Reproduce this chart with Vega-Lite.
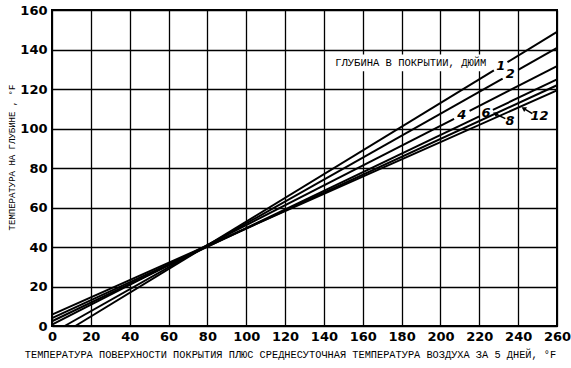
{
  "$schema": "https://vega.github.io/schema/vega-lite/v6.json",
  "width": 505,
  "height": 316,
  "autosize": {"type": "none"},
  "padding": {"left": 52, "top": 10, "right": 14, "bottom": 42},
  "background": "white",
  "config": {
    "view": {"stroke": "black", "strokeWidth": 2},
    "axis": {
      "grid": true,
      "gridColor": "black",
      "gridOpacity": 1,
      "gridWidth": 1.3,
      "domain": false,
      "ticks": false,
      "labelFont": "DejaVu Sans",
      "labelFontWeight": "bold",
      "labelFontSize": 13,
      "labelColor": "black",
      "labelFlush": false,
      "labelOverlap": false,
      "labelBound": false,
      "titleFont": "Liberation Mono",
      "titleFontWeight": "normal",
      "titleColor": "black"
    }
  },
  "datasets": {
    "lines": [
      {"seg": "1a", "x": 12, "y": 0}, {"seg": "1a", "x": 227.5, "y": 129.4},
      {"seg": "1b", "x": 234.5, "y": 133.6}, {"seg": "1b", "x": 260, "y": 148.9},
      {"seg": "2a", "x": 6.5, "y": 0}, {"seg": "2a", "x": 232, "y": 125.2},
      {"seg": "2b", "x": 240, "y": 129.7}, {"seg": "2b", "x": 260, "y": 140.8},
      {"seg": "4a", "x": 0, "y": 0.7}, {"seg": "4a", "x": 207, "y": 104.9},
      {"seg": "4b", "x": 215, "y": 108.9}, {"seg": "4b", "x": 260, "y": 131.6},
      {"seg": "6a", "x": 0, "y": 2.4}, {"seg": "6a", "x": 220, "y": 106.1},
      {"seg": "6b", "x": 227, "y": 109.4}, {"seg": "6b", "x": 260, "y": 124.9},
      {"seg": "8", "x": 0, "y": 4}, {"seg": "8", "x": 260, "y": 121.9},
      {"seg": "12", "x": 0, "y": 5.8}, {"seg": "12", "x": 260, "y": 119.3}
    ],
    "labels": [
      {"label": "1", "x": 231, "y": 131.5},
      {"label": "2", "x": 236, "y": 127.5},
      {"label": "4", "x": 211, "y": 106.9},
      {"label": "6", "x": 223.5, "y": 107.7},
      {"label": "8", "x": 235.8, "y": 103.6},
      {"label": "12", "x": 251, "y": 106.2}
    ],
    "leaders": [
      {"label": "8", "x": 228.2, "y": 107.5, "x2": 233.4, "y2": 105, "angle": 27},
      {"label": "12", "x": 242.8, "y": 110.2, "x2": 247.3, "y2": 107.5, "angle": 31}
    ],
    "box": [
      {"x": 144, "y": 129, "x2": 226, "y2": 137.5, "title": "ГЛУБИНА В ПОКРЫТИИ, ДЮЙМ", "tx": 145.8, "ty": 133}
    ]
  },
  "encoding": {
    "x": {
      "field": "x", "type": "quantitative",
      "scale": {"domain": [0, 260], "nice": false, "zero": false},
      "axis": {
        "values": [0, 20, 40, 60, 80, 100, 120, 140, 160, 180, 200, 220, 240, 260],
        "labelPadding": 4,
        "title": "ТЕМПЕРАТУРА ПОВЕРХНОСТИ ПОКРЫТИЯ ПЛЮС СРЕДНЕСУТОЧНАЯ ТЕМПЕРАТУРА ВОЗДУХА ЗА 5 ДНЕЙ, °F",
        "titleFontSize": 10.3,
        "titleX": 238,
        "titleY": 28,
        "titleAlign": "center",
        "titleBaseline": "middle"
      }
    },
    "y": {
      "field": "y", "type": "quantitative",
      "scale": {"domain": [0, 160], "nice": false, "zero": false},
      "axis": {
        "values": [0, 20, 40, 60, 80, 100, 120, 140, 160],
        "labelPadding": 5,
        "title": "ТЕМПЕРАТУРА НА ГЛУБИНЕ , °F",
        "titleFontSize": 9,
        "titleX": -41,
        "titleY": 147,
        "titleAlign": "center",
        "titleBaseline": "middle",
        "titleAngle": -90
      }
    }
  },
  "layer": [
    {
      "data": {"name": "box"},
      "mark": {"type": "rect", "fill": "white"},
      "encoding": {"x2": {"field": "x2"}, "y2": {"field": "y2"}}
    },
    {
      "data": {"name": "box"},
      "mark": {"type": "text", "font": "Liberation Mono", "fontSize": 10.5, "align": "left", "baseline": "middle", "color": "black"},
      "encoding": {
        "x": {"field": "tx", "type": "quantitative"},
        "y": {"field": "ty", "type": "quantitative"},
        "text": {"field": "title"}
      }
    },
    {
      "data": {"name": "lines"},
      "mark": {"type": "line", "color": "black", "strokeWidth": 2},
      "encoding": {"detail": {"field": "seg"}, "order": {"field": "x"}}
    },
    {
      "data": {"name": "leaders"},
      "mark": {"type": "rule", "color": "black", "strokeWidth": 1.6},
      "encoding": {"x2": {"field": "x2"}, "y2": {"field": "y2"}}
    },
    {
      "data": {"name": "leaders"},
      "mark": {"type": "point", "shape": "triangle-left", "filled": true, "color": "black", "size": 30, "opacity": 1},
      "encoding": {"angle": {"field": "angle", "type": "quantitative", "scale": null}}
    },
    {
      "data": {"name": "labels"},
      "mark": {"type": "text", "font": "DejaVu Sans", "fontSize": 13, "fontWeight": "bold", "fontStyle": "italic", "color": "black", "align": "center", "baseline": "middle"},
      "encoding": {"text": {"field": "label"}}
    }
  ]
}
